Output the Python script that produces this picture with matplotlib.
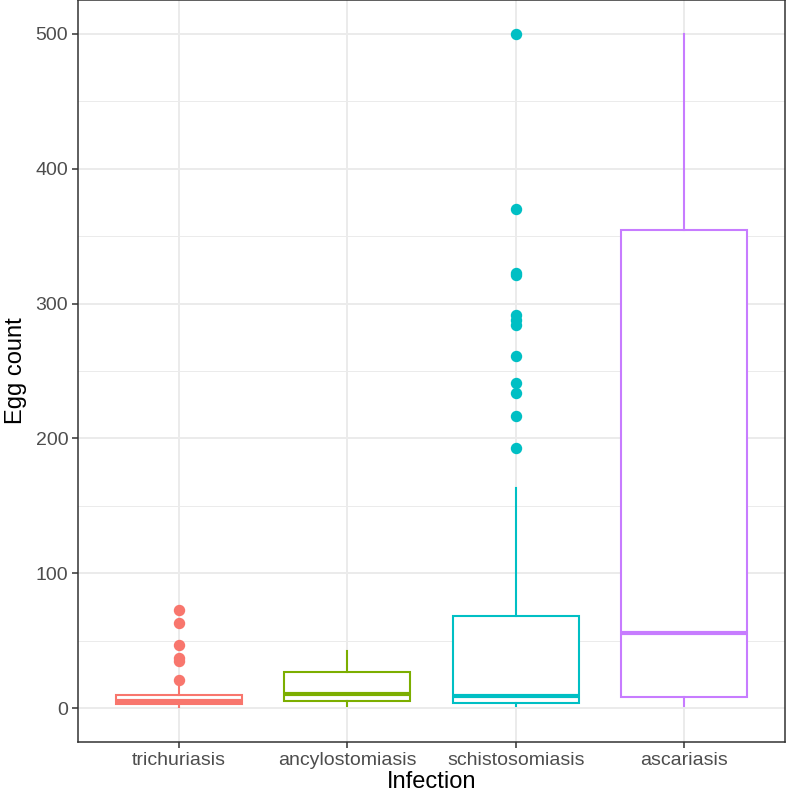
"""
Egg count by infection type, ggplot-style boxplot.
"""
import matplotlib
matplotlib.use("Agg")
import matplotlib.pyplot as plt
from matplotlib.ticker import MultipleLocator

plt.rcParams['font.family'] = ['Liberation Sans', 'DejaVu Sans']

INFECTIONS = ['trichuriasis', 'ancylostomiasis', 'schistosomiasis', 'ascariasis']
COLORS     = ['#F8766D', '#7CAE00', '#00BFC4', '#C77CFF']

# box summaries
Q1      = [3,    5.5,  3.8,  8.7]
MEDIAN  = [5.5,  10.5, 9,    56]
Q3      = [10,   26.8, 68.6, 354.6]
WHISLO  = [1,    1.6,  1.6,  1.6]
WHISHI  = [17,   42.8, 163.6, 500]
FLIERS  = [
    [72.5, 63, 47, 37, 35, 20.7],
    [],
    [500, 370, 323, 321, 291.8, 288, 284, 261, 241, 234, 217, 193],
    [],
]

GRID_COL = '#EBEBEB'
AXIS_COL = '#333333'
TICK_COL = '#4D4D4D'

fig = plt.figure(figsize=(7.86, 7.96), dpi=100)
ax = fig.add_axes([78 / 786, 54 / 796, 707 / 786, 742 / 796])

stats = []
for i, name in enumerate(INFECTIONS):
    stats.append(dict(label=name, q1=Q1[i], med=MEDIAN[i], q3=Q3[i],
                      whislo=WHISLO[i], whishi=WHISHI[i], fliers=FLIERS[i]))

positions = list(range(1, len(INFECTIONS) + 1))
bp = ax.bxp(stats, positions=positions, widths=0.75, showcaps=False,
            patch_artist=True, zorder=3)

for i, c in enumerate(COLORS):
    bp['boxes'][i].set(facecolor='white', edgecolor=c, linewidth=1.5)
    bp['medians'][i].set(color=c, linewidth=3.0, solid_capstyle='butt')
    for w in bp['whiskers'][2 * i:2 * i + 2]:
        w.set(color=c, linewidth=1.5)
    bp['fliers'][i].set(marker='o', markerfacecolor=c, markeredgecolor=c,
                        markersize=7.2, linestyle='none')

ax.set_xlim(0.4, 4.6)
ax.set_ylim(-25, 525)
ax.yaxis.set_major_locator(MultipleLocator(100))
ax.yaxis.set_minor_locator(MultipleLocator(50))
ax.set_xticks(positions)
ax.set_xticklabels(INFECTIONS)

ax.grid(which='major', color=GRID_COL, linewidth=1.4, zorder=0)
ax.grid(which='minor', axis='y', color=GRID_COL, linewidth=0.7, zorder=0)
ax.set_axisbelow(True)

for s in ax.spines.values():
    s.set_color(AXIS_COL)
    s.set_linewidth(1.1)

ax.tick_params(which='major', length=4, width=1.1, color=AXIS_COL,
               labelcolor=TICK_COL, labelsize=14, pad=3)
ax.tick_params(which='minor', length=0)

ax.set_xlabel('Infection', fontsize=17, color='black', labelpad=2)
ax.set_ylabel('Egg count', fontsize=17, color='black', labelpad=6)

plt.savefig('out.png', dpi=100)
plt.close()
